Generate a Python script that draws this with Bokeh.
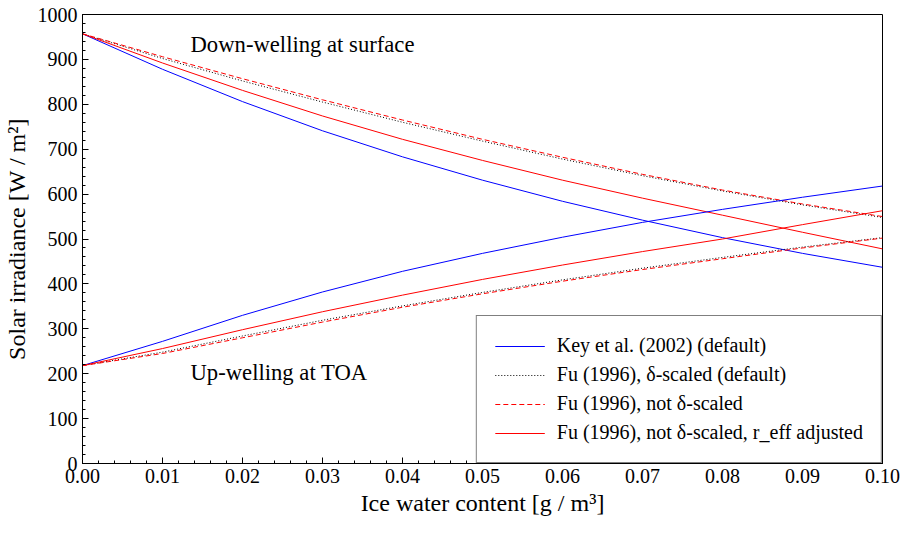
from bokeh.plotting import figure
from bokeh.models import Legend, LegendItem, Label, SingleIntervalTicker, FixedTicker, CustomJSTickFormatter
from bokeh.embed import file_html
from bokeh.resources import INLINE

iwc = [0.0, 0.01, 0.02, 0.03, 0.04, 0.05, 0.06, 0.07, 0.08, 0.09, 0.10]

down_key = [957, 878, 806, 741, 683, 631, 584, 542, 503, 468, 437]
down_fu_scaled = [957, 902, 852, 805, 760, 718, 678, 641, 607, 576, 548]
down_fu_noscale = [957, 906, 857, 810, 765, 722, 682, 644, 609, 578, 550]
down_fu_reff = [957, 892, 831, 774, 722, 675, 631, 591, 553, 515, 478]

up_key = [218, 272, 330, 382, 428, 468, 504, 537, 566, 593, 618]
up_fu_scaled = [218, 248, 284, 319, 351, 381, 409, 435, 459, 482, 503]
up_fu_noscale = [218, 245, 280, 315, 348, 378, 406, 432, 456, 480, 502]
up_fu_reff = [218, 256, 298, 338, 375, 410, 442, 472, 500, 532, 563]

FONT = "Liberation Serif"

p = figure(width=900, height=518, x_range=(0, 0.1), y_range=(0, 1000),
           output_backend="svg", toolbar_location=None, tools="",
           min_border_left=80, min_border_right=18, min_border_top=14)
p.xgrid.grid_line_color = None
p.ygrid.grid_line_color = None
p.outline_line_color = "black"
p.outline_line_width = 1

p.xaxis.ticker = FixedTicker(ticks=iwc, minor_ticks=[i * 0.002 for i in range(51)])
p.yaxis.ticker = SingleIntervalTicker(interval=100, num_minor_ticks=5)
p.xaxis.formatter = CustomJSTickFormatter(code="return tick.toFixed(2);")
for ax in (p.xaxis, p.yaxis):
    ax.major_tick_in = 6
    ax.major_tick_out = 0
    ax.minor_tick_in = 3
    ax.minor_tick_out = 0
    ax.major_label_text_font = FONT
    ax.major_label_text_font_size = "15pt"
    ax.major_label_text_color = "black"
    ax.axis_label_text_font = FONT
    ax.axis_label_text_font_size = "18pt"
    ax.axis_label_text_font_style = "normal"
    ax.axis_label_text_color = "black"
    ax.axis_line_color = "black"
    ax.major_tick_line_color = "black"
    ax.minor_tick_line_color = "black"
p.xaxis.axis_label_standoff = 4
p.xaxis.axis_label = "Ice water content [g / m\u00b3]"
p.yaxis.axis_label = "Solar irradiance [W / m\u00b2]"

r1 = p.line(iwc, down_key, line_color="blue", line_width=1)
r2 = p.line(iwc, down_fu_scaled, line_color="black", line_width=1, line_dash="1 2")
r3 = p.line(iwc, down_fu_noscale, line_color="red", line_width=1, line_dash="5 3")
r4 = p.line(iwc, down_fu_reff, line_color="red", line_width=1)
p.line(iwc, up_key, line_color="blue", line_width=1)
p.line(iwc, up_fu_scaled, line_color="black", line_width=1, line_dash="1 2")
p.line(iwc, up_fu_noscale, line_color="red", line_width=1, line_dash="5 3")
p.line(iwc, up_fu_reff, line_color="red", line_width=1)

p.add_layout(Label(x=0.0135, y=905, text="Down-welling at surface",
                   text_font=FONT, text_font_size="17pt", text_color="black"))
p.add_layout(Label(x=0.0135, y=175, text="Up-welling at TOA",
                   text_font=FONT, text_font_size="17pt", text_color="black"))

legend = Legend(items=[
    LegendItem(label="Key et al. (2002) (default)", renderers=[r1]),
    LegendItem(label="Fu (1996), \u03b4-scaled (default)", renderers=[r2]),
    LegendItem(label="Fu (1996), not \u03b4-scaled", renderers=[r3]),
    LegendItem(label="Fu (1996), not \u03b4-scaled, r_eff adjusted", renderers=[r4]),
], location="bottom_right")
legend.label_text_font = FONT
legend.label_text_font_size = "15pt"
legend.label_text_color = "black"
legend.border_line_color = "black"
legend.border_line_width = 1
legend.margin = 0
legend.padding = 18
legend.spacing = 6
legend.glyph_width = 50
legend.label_standoff = 12
legend.background_fill_alpha = 1
p.add_layout(legend)

open("out.html", "w").write(file_html(p, INLINE))
